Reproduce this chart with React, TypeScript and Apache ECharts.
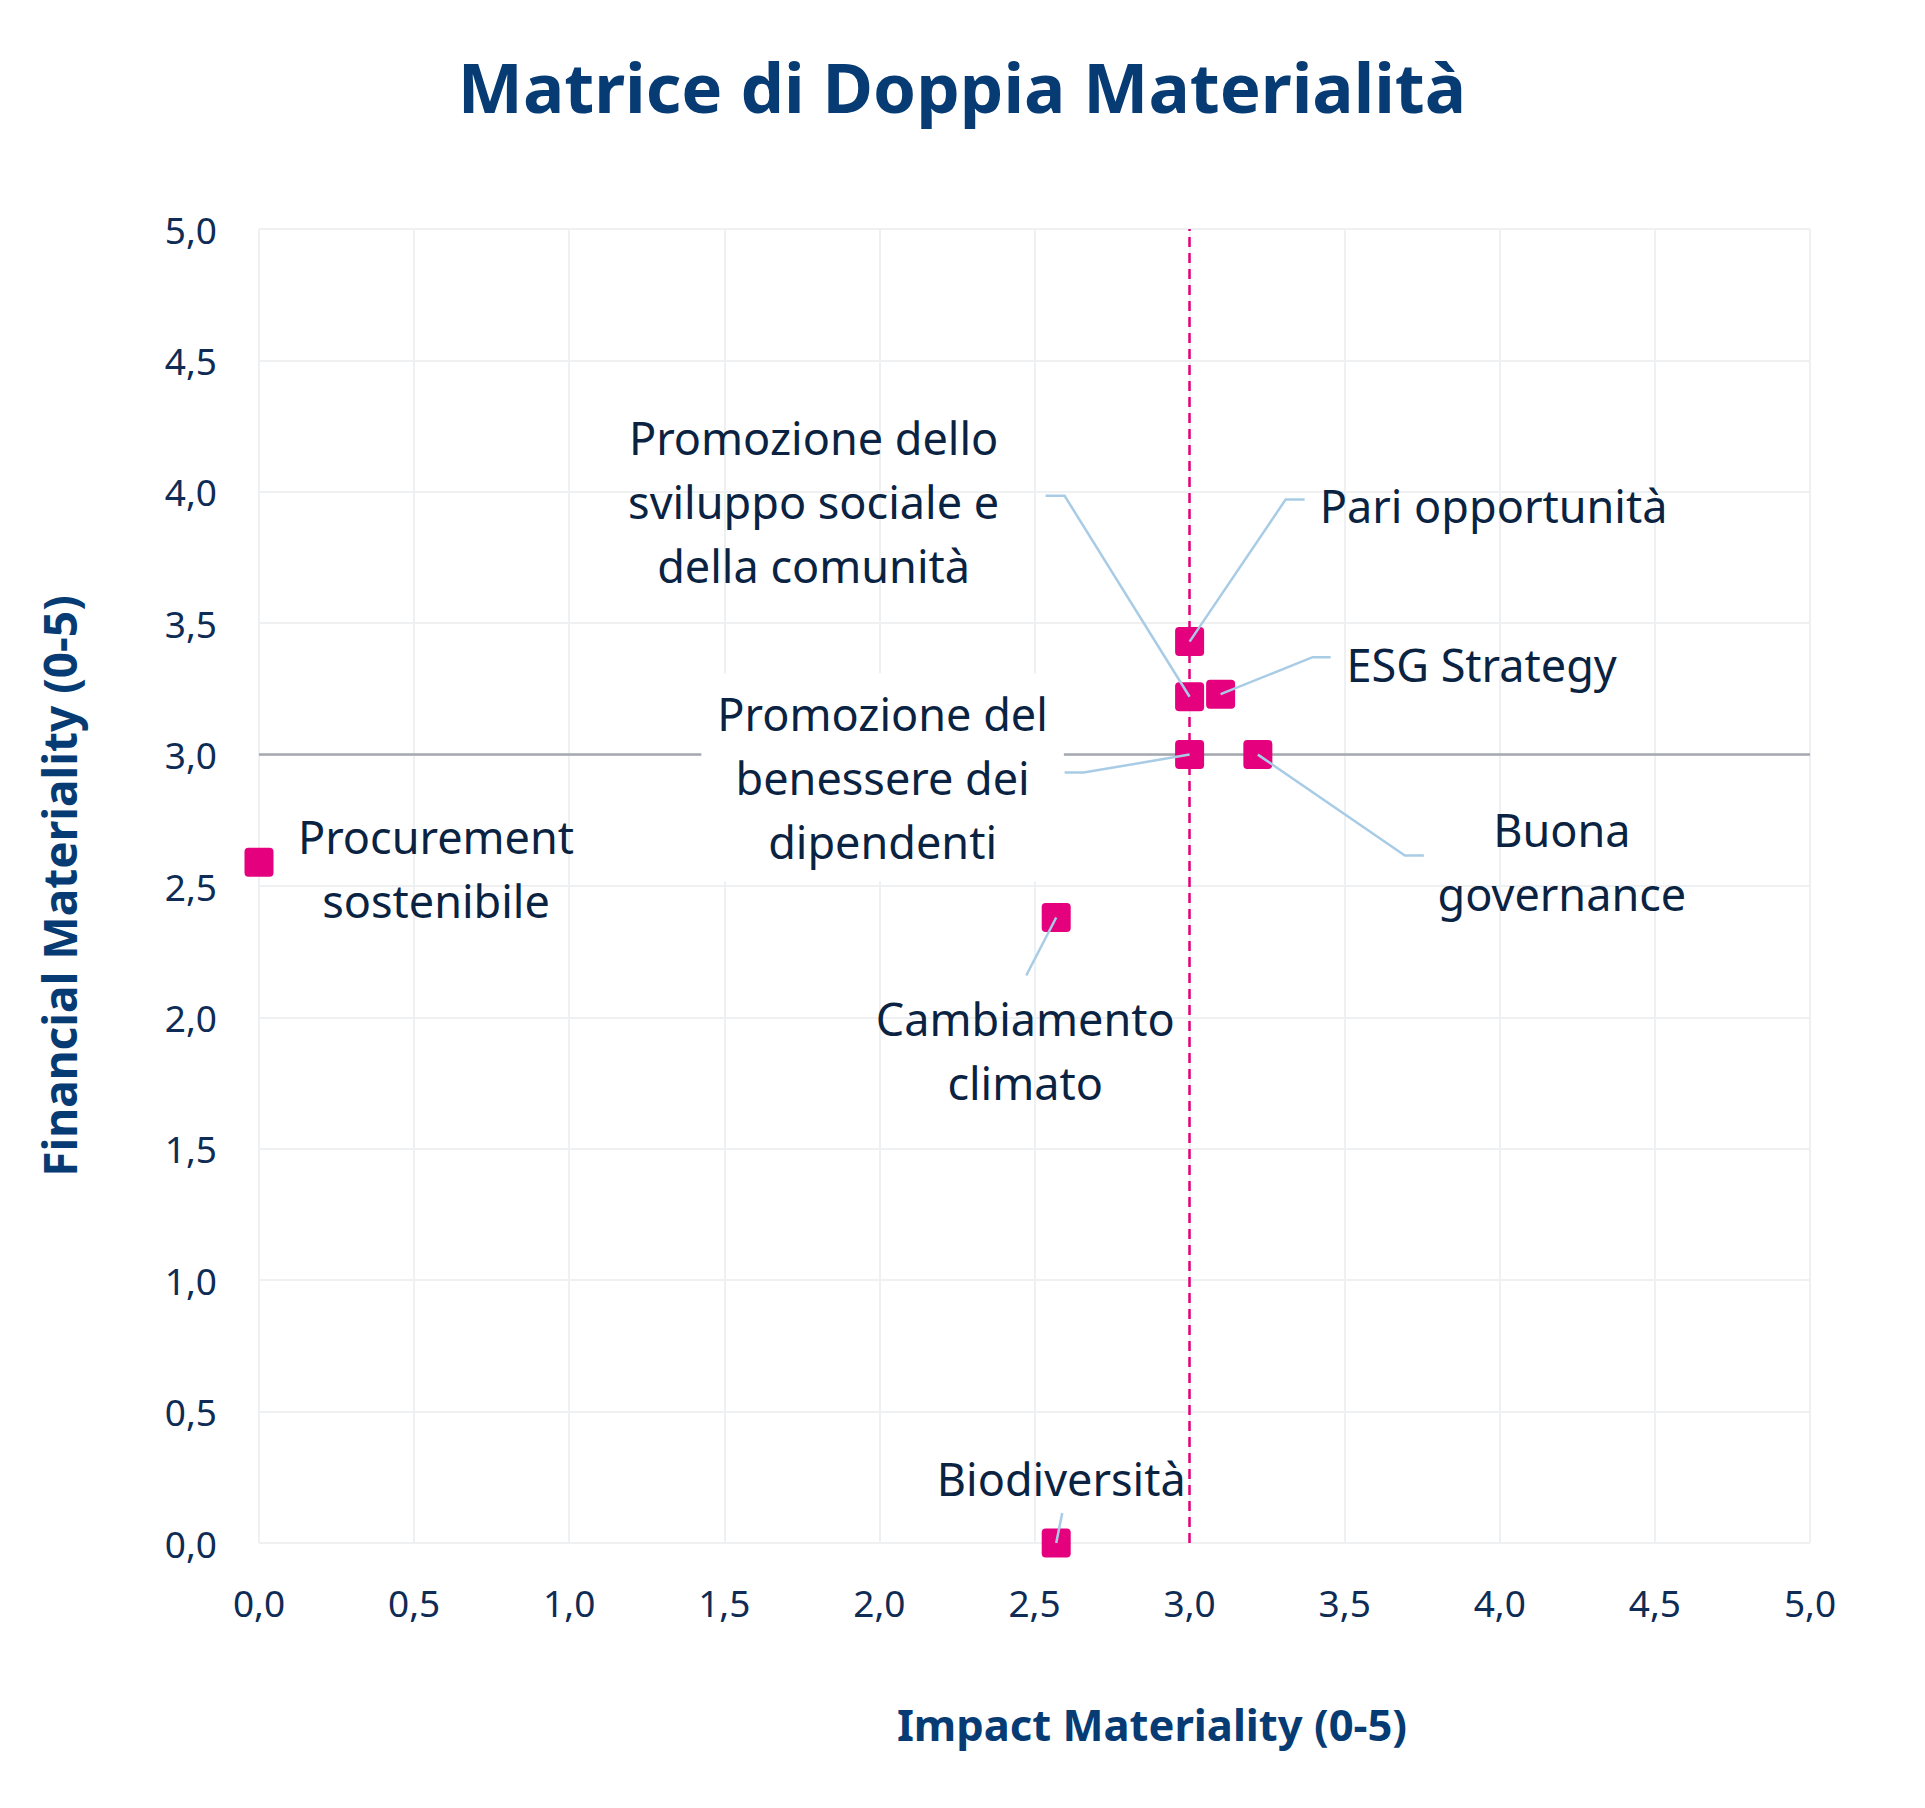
import React, { useEffect, useRef } from 'react';
import * as echarts from 'echarts';

// ---- Data ----
const topics = [
  'Procurement sostenibile',
  'Cambiamento climato',
  'Biodiversità',
  'Pari opportunità',
  'Promozione dello sviluppo sociale e della comunità',
  'ESG Strategy',
  'Promozione del benessere dei dipendenti',
  'Buona governance',
];
const labelTexts = [
  'Procurement\nsostenibile',
  'Cambiamento\nclimato',
  'Biodiversità',
  'Pari opportunità',
  'Promozione dello\nsviluppo sociale e\ndella comunità',
  'ESG Strategy',
  'Promozione del\nbenessere dei\ndipendenti',
  'Buona\ngovernance',
];
const impactValues = [0.0, 2.57, 2.57, 3.0, 3.0, 3.1, 3.0, 3.22];
const financialValues = [2.59, 2.38, 0.0, 3.43, 3.22, 3.23, 3.0, 3.0];
const impactThreshold = 3.0;
const financialThreshold = 3.0;

// ---- Label layout (pixel offsets from each point) ----
const labelOffsets = [
  [177, 6], [-31, 133], [5, -65], [304, -136], [-376, -195], [261, -30], [-307, 23], [304, 107],
];
const leaderBends = [
  [], [[-30, 58]], [[6, -30]], [[96, -142], [115, -142]], [[-125, -201], [-144, -201]],
  [[92, -37], [110, -37]], [[-106, 18], [-125, 18]], [[147, 101], [166, 101]],
];
const boxedLabels = [6];

const NAVY = '#073B74';
const TEXT = '#0A2342';
const PINK = '#E5007D';
const FONT = '"Noto Sans", "Open Sans", sans-serif';

const fmt = (v: number) => v.toFixed(1).replace('.', ',');
const squarePath = 'path://M4,0 H25 Q29,0 29,4 V25 Q29,29 25,29 H4 Q0,29 0,25 V4 Q0,0 4,0 Z';

export default function App() {
  const ref = useRef<HTMLDivElement>(null);
  useEffect(() => {
    if (!ref.current) return;
    const chart = echarts.init(ref.current, null, { renderer: 'svg' });
    const points = impactValues.map((x, i) => [x, financialValues[i], i]);
    chart.setOption({
      animation: false,
      backgroundColor: '#ffffff',
      grid: { left: 259, right: 115, top: 229, bottom: 265 },
      xAxis: {
        type: 'value', min: 0, max: 5, interval: 0.5,
        axisLine: { show: false }, axisTick: { show: false },
        splitLine: { show: true, lineStyle: { color: '#EEF0F2', width: 2 } },
        axisLabel: { formatter: fmt, color: '#0E2C55', fontSize: 37, fontFamily: FONT, margin: 41 },
      },
      yAxis: {
        type: 'value', min: 0, max: 5, interval: 0.5,
        axisLine: { show: false }, axisTick: { show: false },
        splitLine: { show: true, lineStyle: { color: '#EEF0F2', width: 2 } },
        axisLabel: { formatter: fmt, color: '#0E2C55', fontSize: 37, fontFamily: FONT, margin: 42 },
      },
      graphic: [
        { type: 'text', x: 962, y: 86, style: { text: 'Matrice di Doppia Materialità', fill: NAVY, fontSize: 69, fontWeight: 'bold', fontFamily: FONT, align: 'center', verticalAlign: 'middle' } },
        { type: 'text', x: 1152, y: 1724, style: { text: 'Impact Materiality (0-5)', fill: NAVY, fontSize: 43.5, fontWeight: 'bold', fontFamily: FONT, align: 'center', verticalAlign: 'middle' } },
        { type: 'text', x: 59, y: 886, rotation: Math.PI / 2, style: { text: 'Financial Materiality (0-5)', fill: NAVY, fontSize: 46, fontWeight: 'bold', fontFamily: FONT, align: 'center', verticalAlign: 'middle' } },
      ],
      series: [
        {
          type: 'scatter',
          name: 'Topics',
          data: points.map((p) => [p[0], p[1]]),
          symbol: squarePath,
          symbolSize: 29,
          itemStyle: { color: PINK, opacity: 1 },
          z: 3,
          clip: false,
          markLine: {
            silent: true, symbol: 'none', z: 1, animation: false,
            label: { show: false },
            data: [
              { xAxis: impactThreshold, lineStyle: { color: PINK, type: [10, 6], width: 2.5, opacity: 1 } },
              { yAxis: financialThreshold, lineStyle: { color: '#A3A9AF', type: 'solid', width: 2.5, opacity: 1 } },
            ],
          },
        },
        {
          type: 'custom',
          name: 'Labels',
          z: 5,
          clip: false,
          silent: true,
          data: points,
          renderItem: (params: any, api: any) => {
            const i = api.value(2);
            const p = api.coord([api.value(0), api.value(1)]);
            const children: any[] = [];
            const bends = leaderBends[i];
            if (bends.length) {
              children.push({
                type: 'polyline',
                shape: { points: [p, ...bends.map((b) => [p[0] + b[0], p[1] + b[1]])] },
                style: { stroke: '#A9CCE6', lineWidth: 2.5, fill: 'none' },
                z2: 1,
              });
            }
            const off = labelOffsets[i];
            const boxed = boxedLabels.includes(i);
            children.push({
              type: 'text',
              x: p[0] + off[0],
              y: p[1] + off[1],
              z2: 2,
              style: {
                text: labelTexts[i],
                fill: TEXT,
                fontSize: 45,
                fontFamily: FONT,
                align: 'center',
                verticalAlign: 'middle',
                lineHeight: 64,
                backgroundColor: boxed ? '#ffffff' : 'transparent',
                padding: boxed ? [8, 16] : 0,
              },
            });
            return { type: 'group', children };
          },
        },
      ],
    });
    return () => chart.dispose();
  }, []);
  return <div ref={ref} style={{ position: 'absolute', left: 0, top: 0, width: 1925, height: 1808 }} />;
}
